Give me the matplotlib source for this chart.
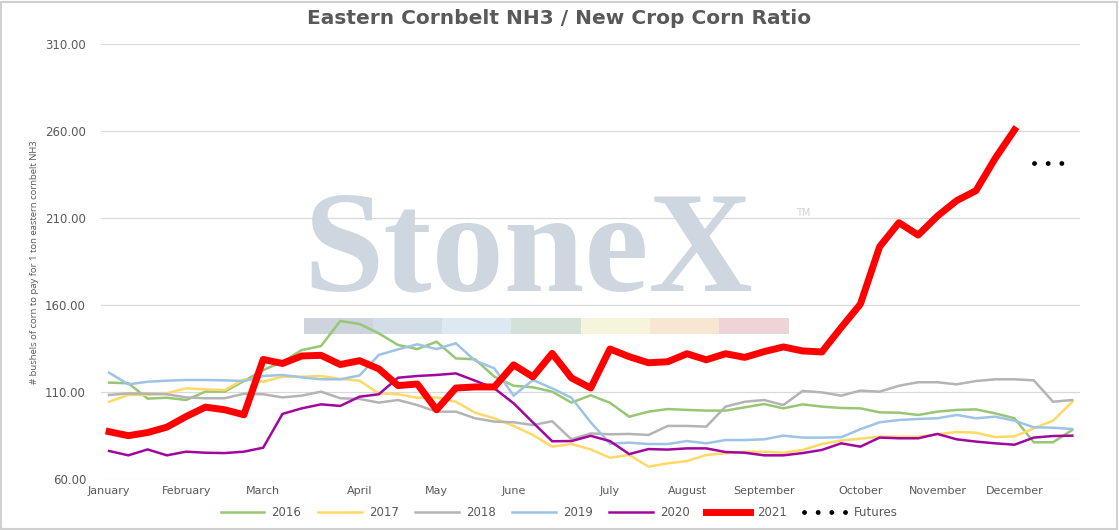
import numpy as np
import matplotlib
matplotlib.use("Agg")
import matplotlib.pyplot as plt
from matplotlib.patches import Rectangle
from matplotlib.transforms import IdentityTransform

# ---------------- data ----------------
months = ["January", "February", "March", "April", "May", "June", "July",
          "August", "September", "October", "November", "December"]
month_idx = [0, 4, 8, 13, 17, 21, 26, 30, 34, 39, 43, 47]

s2016 = [115.4, 115.0, 106.2, 106.7, 105.4, 110.2, 110.2, 116.3, 122.6, 127.4, 134.1, 136.4,
         150.8, 149.1, 143.7, 137.0, 134.7, 138.9, 129.3, 128.8, 118.8, 113.6, 112.7, 110.2,
         103.9, 108.1, 103.8, 95.8, 98.7, 100.2, 99.7, 99.3, 99.3, 101.2, 103.1, 100.6,
         102.9, 101.6, 100.8, 100.6, 98.3, 98.1, 96.8, 98.7, 99.7, 100.0, 97.7, 94.9,
         81.1, 81.1, 88.2]
s2017 = [104.4, 108.3, 108.3, 109.2, 112.1, 111.5, 111.1, 117.3, 115.9, 118.8, 118.8, 119.2,
         117.5, 116.5, 109.2, 108.7, 106.7, 106.9, 104.4, 98.1, 94.9, 90.5, 85.3, 78.6,
         80.1, 77.0, 72.2, 73.8, 67.1, 69.0, 70.3, 73.8, 74.8, 75.7, 75.7, 75.1,
         76.7, 80.1, 82.1, 83.2, 84.3, 84.3, 84.3, 85.7, 87.0, 86.6, 84.1, 84.5,
         89.1, 93.5, 104.4]
s2018 = [108.3, 109.2, 109.0, 108.7, 106.9, 106.4, 106.4, 109.0, 108.7, 106.9, 107.9, 110.2,
         106.4, 106.0, 103.9, 105.4, 102.5, 98.7, 98.7, 94.9, 93.0, 92.6, 91.0, 93.2,
         82.8, 86.2, 85.7, 85.9, 85.3, 90.5, 90.5, 90.1, 101.6, 104.4, 105.4, 102.5,
         110.6, 109.8, 107.9, 110.8, 110.2, 113.6, 115.6, 115.6, 114.4, 116.3, 117.3, 117.3,
         116.7, 104.4, 105.4]
s2019 = [121.1, 114.4, 115.9, 116.5, 116.9, 116.9, 116.7, 116.3, 119.2, 119.8, 118.4, 117.3,
         117.3, 119.5, 131.3, 134.5, 137.4, 134.7, 138.0, 128.0, 123.6, 107.9, 116.9, 112.1,
         106.7, 92.6, 80.3, 80.9, 80.1, 80.1, 81.8, 80.5, 82.4, 82.4, 82.8, 84.9,
         83.8, 83.8, 84.0, 88.6, 92.6, 93.9, 94.5, 94.9, 96.8, 94.9, 95.8, 93.5,
         89.7, 89.5, 88.7]
s2020 = [76.1, 73.6, 77.0, 73.6, 75.7, 75.1, 74.9, 75.7, 78.0, 97.4, 100.6, 102.9,
         102.0, 107.3, 108.7, 118.2, 119.2, 119.8, 120.7, 116.5, 112.1, 103.5, 92.5, 81.7,
         81.8, 84.8, 81.8, 74.3, 77.2, 76.9, 77.6, 77.6, 75.5, 75.1, 73.6, 73.6,
         74.9, 76.7, 80.5, 78.6, 83.8, 83.4, 83.4, 85.9, 82.8, 81.5, 80.5, 79.7,
         83.8, 84.7, 84.9]
s2021 = [87.2, 84.9, 86.7, 89.8, 95.9, 101.3, 99.8, 96.9, 128.7, 126.4, 130.7, 131.1,
         125.8, 128.0, 123.3, 113.7, 114.6, 99.8, 112.3, 112.9, 112.9, 125.6, 118.7, 132.2,
         118.1, 112.3, 134.7, 130.3, 126.8, 127.4, 132.0, 128.5, 132.0, 129.9, 133.2, 135.9,
         133.6, 133.0, 147.0, 160.5, 193.5, 207.3, 200.2, 211.1, 220.0, 225.7, 244.3, 260.6]
futures_idx = [48, 49, 50]
futures = [241.5, 241.5, 241.5]

yticks = [60, 110, 160, 210, 260, 310]

series = [("2016", s2016, "#97c774", 1.8),
          ("2017", s2017, "#ffd966", 1.8),
          ("2018", s2018, "#b4b4b4", 1.8),
          ("2019", s2019, "#9dc3e6", 1.8),
          ("2020", s2020, "#a1069e", 1.8),
          ("2021", s2021, "#ff0000", 5.0)]

# ---------------- figure ----------------
W, H = 1119, 530
fig = plt.figure(figsize=(W / 100, H / 100), dpi=100)
fig.patch.set_facecolor("white")
ax = fig.add_axes([101 / W, (H - 479) / H, (1080 - 101) / W, (479 - 44) / H])

txt = "#595959"
handles = []
for name, vals, col, lw in series:
    ln, = ax.plot(np.arange(len(vals)), vals, color=col, lw=lw, label=name,
                  solid_joinstyle="miter" if lw < 3 else "round", zorder=3)
    handles.append(ln)
fl, = ax.plot(futures_idx, futures, color="black", lw=3.5, linestyle=(0, (0.01, 2.8)),
              dash_capstyle="round", label="Futures", zorder=3)
handles.append(fl)

ax.set_ylim(60, 310)
ax.set_yticks(yticks)
ax.set_yticklabels([f"{v:.2f}" for v in yticks])
ax.set_xlim(-0.42, 50.4)
ax.set_xticks(month_idx)
ax.set_xticklabels(months)
ax.tick_params(axis="both", length=0, colors=txt)
ax.tick_params(axis="y", pad=10.8, labelsize=8.5)
ax.tick_params(axis="x", pad=5, labelsize=8)
ax.grid(axis="y", color="#d9d9d9", lw=0.9)
ax.set_axisbelow(True)
for sp in ax.spines.values():
    sp.set_visible(False)

# ---------------- watermark ----------------
ax.text(303, H - 290, "StoneX", transform=IdentityTransform(), fontsize=104,
        family="Liberation Serif", fontweight="bold", color="#ced6df",
        ha="left", va="baseline", zorder=1.5)
ax.text(796, H - 213, "TM", transform=IdentityTransform(), fontsize=7, color="#cdd5de",
        va="center", ha="left", zorder=1.5)
band_cols = ["#cdd4de", "#d3dde8", "#dde9f2", "#d3e1d9", "#f6f5dc", "#f7e7d2", "#efd4d7"]
seg = (788 - 304) / len(band_cols)
for k, c in enumerate(band_cols):
    r = Rectangle((304 + k * seg, H - 334), seg + 0.5, 16, transform=IdentityTransform(),
                  facecolor=c, edgecolor="none", zorder=1.5)
    ax.add_artist(r)

# ---------------- texts ----------------
fig.text(0.5, 1 - 19 / H, "Eastern Cornbelt NH3 / New Crop Corn Ratio", ha="center", va="center",
         fontsize=14.5, fontweight="bold", color=txt)
fig.text(35 / W, 1 - 262 / H, "# bushels of corn to pay for 1 ton eastern cornbelt NH3",
         rotation=90, ha="center", va="center", fontsize=6.8, color=txt, family="Open Sans")

fig.legend(handles, [h.get_label() for h in handles], loc="center",
           bbox_to_anchor=(0.5, 1 - 513 / H), ncol=7, frameon=False, fontsize=8.5,
           handlelength=3.7, handletextpad=0.6, columnspacing=1.4, labelcolor=txt)

fig.add_artist(Rectangle((0.001, 0.002), 0.997, 0.995, transform=fig.transFigure, fill=False,
                         edgecolor="#d0d0d0", lw=1.5))

fig.savefig("out.png", dpi=100)
